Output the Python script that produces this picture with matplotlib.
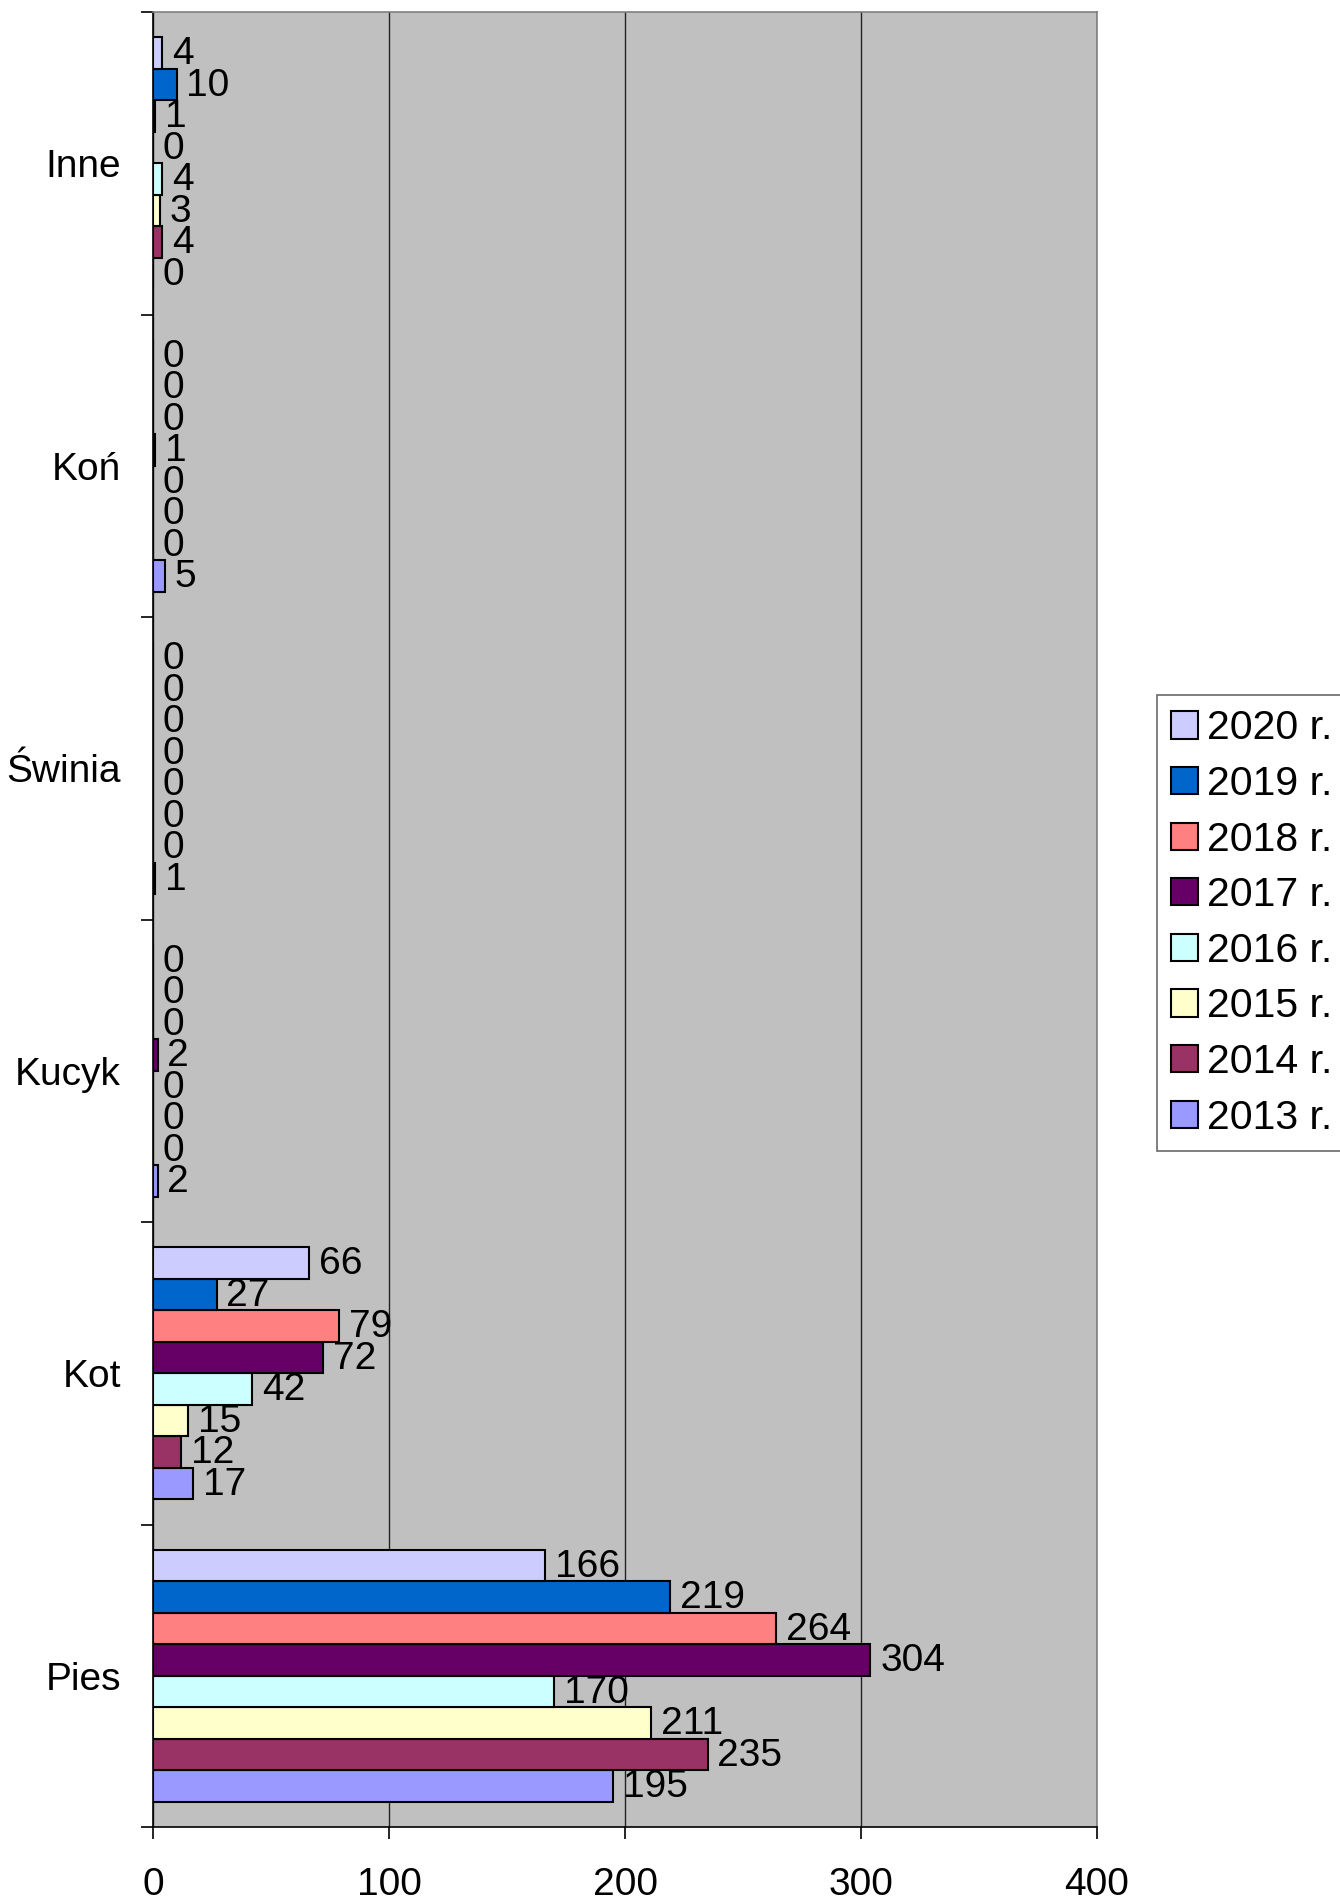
import matplotlib.pyplot as plt
import numpy as np

plt.rcParams['font.family'] = ['Liberation Sans', 'DejaVu Sans']

# -----------------------
# Data
# -----------------------
categories = ["Pies", "Kot", "Kucyk", "Świnia", "Koń", "Inne"]
years = ["2013 r.", "2014 r.", "2015 r.", "2016 r.", "2017 r.", "2018 r.", "2019 r.", "2020 r."]

v2013 = [195, 17, 2, 1, 5, 0]
v2014 = [235, 12, 0, 0, 0, 4]
v2015 = [211, 15, 0, 0, 0, 3]
v2016 = [170, 42, 0, 0, 0, 4]
v2017 = [304, 72, 2, 0, 1, 0]
v2018 = [264, 79, 0, 0, 0, 1]
v2019 = [219, 27, 0, 0, 0, 10]
v2020 = [166, 66, 0, 0, 0, 4]

series = [v2013, v2014, v2015, v2016, v2017, v2018, v2019, v2020]
colors = ["#9999FF", "#993366", "#FFFFCC", "#CCFFFF",
          "#660066", "#FF8080", "#0066CC", "#CCCCFF"]

# -----------------------
# Figure
# -----------------------
fig = plt.figure(figsize=(13.4, 19.04), dpi=100)
ax = fig.add_axes([0.1142, 0.0404, 0.7045, 0.9533])
ax.set_facecolor("#C0C0C0")

fs = 28
n = len(series)
group = 0.833
h = group / n
y = np.arange(len(categories))

handles = []
for i, (vals, c) in enumerate(zip(series, colors)):
    pos = y - group / 2 + h / 2 + i * h
    bars = ax.barh(pos, vals, height=h, color=c, edgecolor="black",
                   linewidth=1.5, zorder=3)
    handles.append(bars)
    for p, v in zip(pos, vals):
        ax.annotate(str(v), (v, p), xytext=(7, -1), textcoords="offset points",
                    ha="left", va="center", fontsize=fs, zorder=4)

ax.set_xlim(0, 400)
ax.set_ylim(-0.5, len(categories) - 0.5)

ax.set_xticks([0, 100, 200, 300, 400])
ax.tick_params(axis="x", direction="out", length=8.6, width=1.2,
               pad=20, labelsize=fs)
ax.xaxis.grid(True, color="#222222", linewidth=1.0, zorder=1)

ax.set_yticks(y)
ax.set_yticklabels(categories)
ax.tick_params(axis="y", which="major", length=0, pad=23, labelsize=fs)
ax.set_yticks(np.arange(-0.5, len(categories)), minor=True)
ax.tick_params(axis="y", which="minor", direction="out", length=8.6, width=1.2)

for side in ["top", "right"]:
    ax.spines[side].set_color("#808080")
    ax.spines[side].set_linewidth(1.2)
for side in ["left", "bottom"]:
    ax.spines[side].set_color("black")
    ax.spines[side].set_linewidth(1.2)

# legend goes from newest year to oldest
leg = fig.legend(handles[::-1], years[::-1], loc="upper left",
                 bbox_to_anchor=(1157 / 1340, 1 - 695 / 1904),
                 prop={"size": 29.5}, frameon=True, fancybox=False,
                 handlelength=0.65, handleheight=0.65, handletextpad=0.22,
                 labelspacing=0.43, borderpad=0.35, borderaxespad=0)
leg.get_frame().set_edgecolor("#444444")
leg.get_frame().set_linewidth(1.2)

plt.savefig("out.png", dpi=100)
